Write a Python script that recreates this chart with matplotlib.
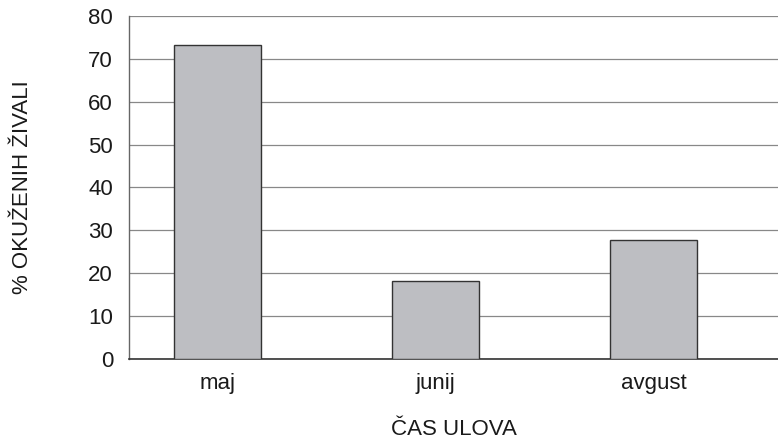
import matplotlib
matplotlib.use("Agg")
import matplotlib.pyplot as plt

categories = ["maj", "junij", "avgust"]
values = [73.2, 18.2, 27.8]
yticks = [0, 10, 20, 30, 40, 50, 60, 70, 80]

plt.rcParams['font.family'] = ['Liberation Sans', 'DejaVu Sans']

fig = plt.figure(figsize=(7.78, 4.43), dpi=100)
ax = fig.add_axes([129/778, 84/443, 1 - 129/778, (359-16)/443])

x = list(range(len(categories)))
ax.bar(x, values, width=0.4, color="#bdbec2", edgecolor="#333333", linewidth=1.0, zorder=3)

ax.set_xlim(-0.406, 2.571)
ax.set_ylim(0, 80)
ax.set_yticks(yticks)
ax.set_xticks(x)
ax.set_xticklabels(categories)
ax.tick_params(axis='both', length=0, labelsize=16, colors="#1a1a1a")
ax.tick_params(axis='x', pad=10)
ax.tick_params(axis='y', pad=11.5)
ax.yaxis.grid(True, color="#888888", linewidth=0.9, zorder=0)
ax.xaxis.grid(False)
for s in ["top", "right"]:
    ax.spines[s].set_visible(False)
ax.spines["left"].set_color("#666666")
ax.spines["bottom"].set_color("#333333")
ax.spines["left"].set_linewidth(1.0)
ax.spines["bottom"].set_linewidth(1.2)

ax.set_ylabel("% OKUŽENIH ŽIVALI", fontsize=16, color="#1a1a1a", labelpad=40)
ax.set_xlabel("ČAS ULOVA", fontsize=16, color="#1a1a1a", labelpad=18)

fig.savefig("out.png", dpi=100)
